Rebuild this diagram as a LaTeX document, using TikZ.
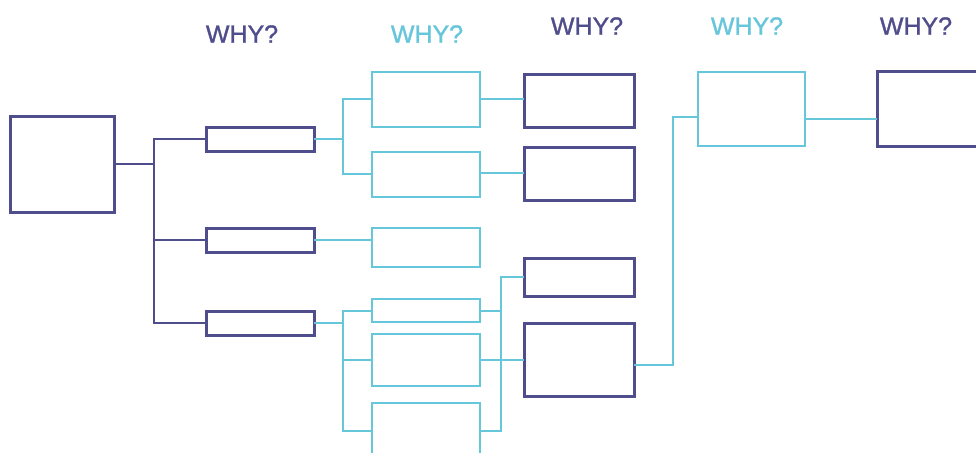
\documentclass[tikz,border=0pt]{standalone}
\usepackage{fontspec}
\setmainfont{Liberation Sans}
\newfontfamily\whyfont[FakeBold=1.2]{Liberation Sans}
\definecolor{darkc}{HTML}{4F4D8C}
\definecolor{lightc}{HTML}{66C6DA}
\begin{document}
\begin{tikzpicture}[x=1pt,y=-1pt,
  dbox/.style={draw=darkc,line width=3pt,rectangle,inner sep=0pt,outer sep=0pt},
  lbox/.style={draw=lightc,line width=2.5pt,rectangle,inner sep=0pt,outer sep=0pt},
  dline/.style={draw=darkc,line width=2.6pt},
  lline/.style={draw=lightc,line width=2.4pt},
  whyd/.style={text=darkc,font=\whyfont\fontsize{25}{25}\selectfont},
  whyl/.style={text=lightc,font=\whyfont\fontsize{25}{25}\selectfont}]
\useasboundingbox (0,0) rectangle (976,452);
\clip (0,0) rectangle (976,452);
\fill[white] (0,0) rectangle (976,452);
% labels
\node[whyd] (w1) at (242,34) {WHY?};
\node[whyl] (w2) at (427,34) {WHY?};
\node[whyd] (w3) at (587,26) {WHY?};
\node[whyl] (w4) at (747,26) {WHY?};
\node[whyd] (w5) at (916,26) {WHY?};
% boxes
\node[dbox,minimum width=104,minimum height=96] (root) at (62,164) {};
\node[dbox,minimum width=108,minimum height=24] (b1) at (260,139) {};
\node[dbox,minimum width=108,minimum height=24] (b2) at (260,240) {};
\node[dbox,minimum width=108,minimum height=24] (b3) at (260,323) {};
\node[lbox,minimum width=108,minimum height=55] (A) at (426,99.5) {};
\node[lbox,minimum width=108,minimum height=45] (B) at (426,174.5) {};
\node[lbox,minimum width=108,minimum height=39] (C) at (426,247.5) {};
\node[lbox,minimum width=108,minimum height=23] (D) at (426,310.5) {};
\node[lbox,minimum width=108,minimum height=52] (E) at (426,360) {};
\node[lbox,minimum width=108,minimum height=66] (F) at (426,436) {};
\node[dbox,minimum width=110,minimum height=53] (I) at (579,100.5) {};
\node[dbox,minimum width=110,minimum height=53] (J) at (579,173.5) {};
\node[dbox,minimum width=110,minimum height=38] (G) at (579,277) {};
\node[dbox,minimum width=110,minimum height=73] (H) at (579,359.5) {};
\node[lbox,minimum width=107,minimum height=74] (K) at (751.5,109) {};
\node[dbox,minimum width=123,minimum height=75] (L) at (938.5,108.5) {};
% connectors: root to level 1
\coordinate (t0) at (154,164);
\draw[dline] (root.east |- t0) -- (t0);
\draw[dline] (b1.west) -| (t0) |- (b3.west);
\draw[dline] (t0 |- b2.west) -- (b2.west);
% level 1 to level 2
\coordinate (s1) at (343,139);
\draw[lline] (b1.east) -- (s1);
\draw[lline] (A.west |- 0,99) -| (s1) |- (B.west |- 0,174);
\draw[lline] (b2.east) -- (b2.east -| C.west);
\coordinate (s3) at (343,323);
\draw[lline] (b3.east) -- (s3);
\draw[lline] (D.west |- 0,311) -| (s3) |- (F.west |- 0,431);
\draw[lline] (s3 |- 0,360) -- (E.west |- 0,360);
% level 2 to level 3
\draw[lline] (A.east |- 0,99) -- (I.west |- 0,99);
\draw[lline] (B.east |- 0,173) -- (J.west |- 0,173);
\coordinate (s4) at (501,360);
\draw[lline] (D.east |- 0,311) -| (s4);
\draw[lline] (G.west) -| (s4) |- (F.east |- 0,431);
\draw[lline] (E.east |- 0,360) -- (H.west |- 0,360);
% level 3 to 4 to 5
\coordinate (s5) at (673,365);
\draw[lline] (H.east |- s5) -- (s5) |- (K.west |- 0,117);
\draw[lline] (K.east |- 0,119) -- (L.west |- 0,119);
\end{tikzpicture}
\end{document}
